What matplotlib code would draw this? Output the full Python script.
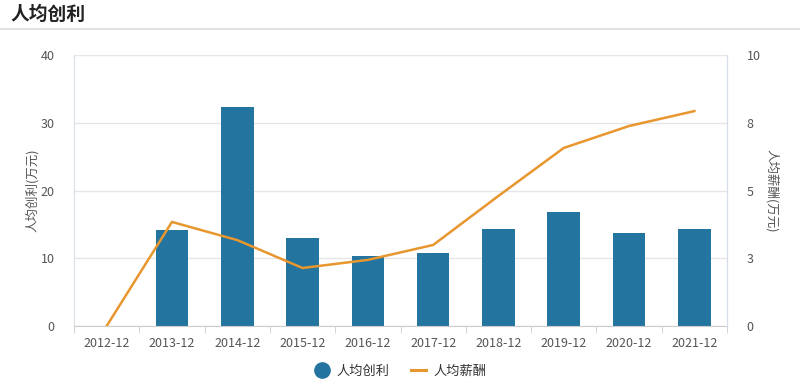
import matplotlib
matplotlib.use("Agg")
import matplotlib.pyplot as plt
from matplotlib.lines import Line2D
import numpy as np

plt.rcParams['font.family'] = ['Noto Sans CJK SC', 'DejaVu Sans']

categories = ['2012-12', '2013-12', '2014-12', '2015-12', '2016-12',
              '2017-12', '2018-12', '2019-12', '2020-12', '2021-12']
profit_per_capita = [0, 14.2, 32.3, 13.0, 10.3, 10.8, 14.3, 16.8, 13.7, 14.3]
salary_per_capita = [0, 3.84, 3.17, 2.14, 2.44, 2.99, 4.8, 6.57, 7.38, 7.93]
left_ticks = [0, 10, 20, 30, 40]
right_ticks = [0, 2.5, 5, 7.5, 10]
right_tick_labels = ['0', '3', '5', '8', '10']

bar_color = '#23749E'
line_color = '#E8962E'
text_color = '#555555'

fig = plt.figure(figsize=(8, 3.92), dpi=100)
ax = fig.add_axes([74/800, 1-326/392, (727-74)/800, (326-55)/392])
x = np.arange(len(categories))
ax.bar(x, profit_per_capita, width=0.5, color=bar_color, zorder=2)
ax.set_xlim(-0.5, len(categories)-0.5)
ax.set_ylim(0, 40)
ax.set_yticks(left_ticks)
ax.set_xticks(x)
ax.set_xticklabels(categories)
ax.set_xticks(np.arange(-0.5, len(categories), 1), minor=True)
ax.tick_params(axis='x', which='major', length=0, labelsize=9, colors=text_color, pad=8)
ax.tick_params(axis='x', which='minor', length=5, color='#CCCCCC', direction='out')
ax.tick_params(axis='y', length=0, labelsize=9, colors=text_color, pad=14)
ax.grid(axis='y', color='#E6E6E6', linewidth=1, zorder=0)
ax.set_ylabel('人均创利(万元)', fontsize=9, color=text_color, labelpad=1)
for s in ['top']:
    ax.spines[s].set_visible(False)
ax.spines['left'].set_color('#D8DEE8')
ax.spines['right'].set_color('#D8DEE8')
ax.spines['bottom'].set_color('#CCCCCC')

ax2 = ax.twinx()
ax2.plot(x, salary_per_capita, color=line_color, linewidth=1.8, zorder=3)
ax2.set_ylim(0, 10)
ax2.set_yticks(right_ticks)
ax2.set_yticklabels(right_tick_labels)
ax2.tick_params(axis='y', length=0, labelsize=9, colors=text_color, pad=14)
ax2.set_ylabel('人均薪酬(万元)', fontsize=9, color=text_color, rotation=270, labelpad=13)
for s in ['top', 'left', 'bottom']:
    ax2.spines[s].set_visible(False)
ax2.spines['right'].set_color('#D8DEE8')

fig.text(10/800, 1-14/392, '人均创利', fontsize=13.5, fontweight='bold', color='#222222', va='center', ha='left')
fig.add_artist(Line2D([0, 1], [1-29/392, 1-29/392], color='#DDDDDD', linewidth=1.2))

handles = [Line2D([], [], marker='o', linestyle='none', markersize=11, color=bar_color),
           Line2D([], [], color=line_color, linewidth=2.2)]
fig.legend(handles, ['人均创利', '人均薪酬'], loc='center', bbox_to_anchor=(0.5, 1-371/392),
           ncol=2, frameon=False, fontsize=9.5, handlelength=1.2, columnspacing=1.6, handletextpad=0.5,
           labelcolor='#333333')

fig.savefig('out.png', dpi=100)
